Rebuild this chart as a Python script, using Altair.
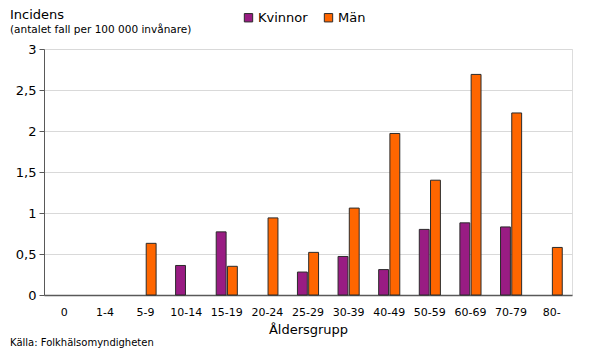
import altair as alt
import pandas as pd

groups = ["0", "1-4", "5-9", "10-14", "15-19", "20-24", "25-29", "30-39",
          "40-49", "50-59", "60-69", "70-79", "80-"]
kvinnor = [0, 0, 0, 0.36, 0.77, 0, 0.28, 0.47, 0.31, 0.80, 0.88, 0.83, 0]
man = [0, 0, 0.63, 0, 0.35, 0.94, 0.52, 1.06, 1.97, 1.40, 2.69, 2.22, 0.58]
series = ["Kvinnor", "Män"]
colors = ["#991c83", "#ff6600"]

rows = []
for g, k, m in zip(groups, kvinnor, man):
    rows.append({"grupp": g, "kon": "Kvinnor", "varde": k})
    rows.append({"grupp": g, "kon": "Män", "varde": m})
df = pd.DataFrame(rows)

FONT = "DejaVu Sans"

bars = alt.Chart(df).transform_filter("datum.varde > 0").mark_bar(
    stroke="#2b2b2b", strokeWidth=1
).encode(
    x=alt.X("grupp:N", sort=groups,
            scale=alt.Scale(domain=groups, paddingInner=0.48, paddingOuter=0.24),
            axis=alt.Axis(title="Åldersgrupp", labelAngle=0, ticks=False,
                          labelPadding=11, labelFontSize=11, titleFontSize=13,
                          titleFontWeight="normal", titlePadding=6,
                          domainColor="#595959", domainWidth=1.5,
                          labelColor="#000", titleColor="#000",
                          labelFont=FONT, titleFont=FONT)),
    xOffset=alt.XOffset("kon:N", scale=alt.Scale(domain=series, paddingInner=0.12)),
    y=alt.Y("varde:Q", scale=alt.Scale(domain=[0, 3]),
            axis=alt.Axis(title=None, values=[0, 0.5, 1, 1.5, 2, 2.5, 3],
                          labelExpr="replace(format(datum.value, '~g'), '.', ',')",
                          labelFontSize=13, labelPadding=3, tickSize=5,
                          tickColor="#595959", domainColor="#595959",
                          gridColor="#d9d9d9", labelColor="#000",
                          labelFont=FONT)),
    color=alt.Color("kon:N", scale=alt.Scale(domain=series, range=colors),
                    legend=alt.Legend(title=None, orient="none", direction="horizontal",
                                      legendX=198, legendY=-38, symbolType="square",
                                      symbolSize=70, symbolStrokeColor="#2b2b2b",
                                      symbolStrokeWidth=1, labelFontSize=13,
                                      labelFont=FONT, labelColor="#000",
                                      columnPadding=14, labelOffset=3)),
)

title1 = alt.Chart(pd.DataFrame({"t": ["Incidens"]})).mark_text(
    align="left", baseline="middle", fontSize=13, font=FONT, color="#000"
).encode(x=alt.value(-34), y=alt.value(-34), text="t:N")

title2 = alt.Chart(pd.DataFrame({"t": ["(antalet fall per 100 000 invånare)"]})).mark_text(
    align="left", baseline="middle", fontSize=10.5, font=FONT, color="#000"
).encode(x=alt.value(-34), y=alt.value(-19), text="t:N")

source = alt.Chart(pd.DataFrame({"t": ["Källa: Folkhälsomyndigheten"]})).mark_text(
    align="left", baseline="middle", fontSize=10, font=FONT, color="#000"
).encode(x=alt.value(-34), y=alt.value(294), text="t:N")

chart = alt.layer(bars, title1, title2, source).properties(
    width=528, height=246,
    autosize=alt.AutoSizeParams(type="none"),
    padding={"left": 36, "top": 41, "right": 10, "bottom": 60},
).configure_view(stroke=None).configure(font=FONT)

chart.save("out.html", embed_options={"renderer": "svg", "actions": False})
